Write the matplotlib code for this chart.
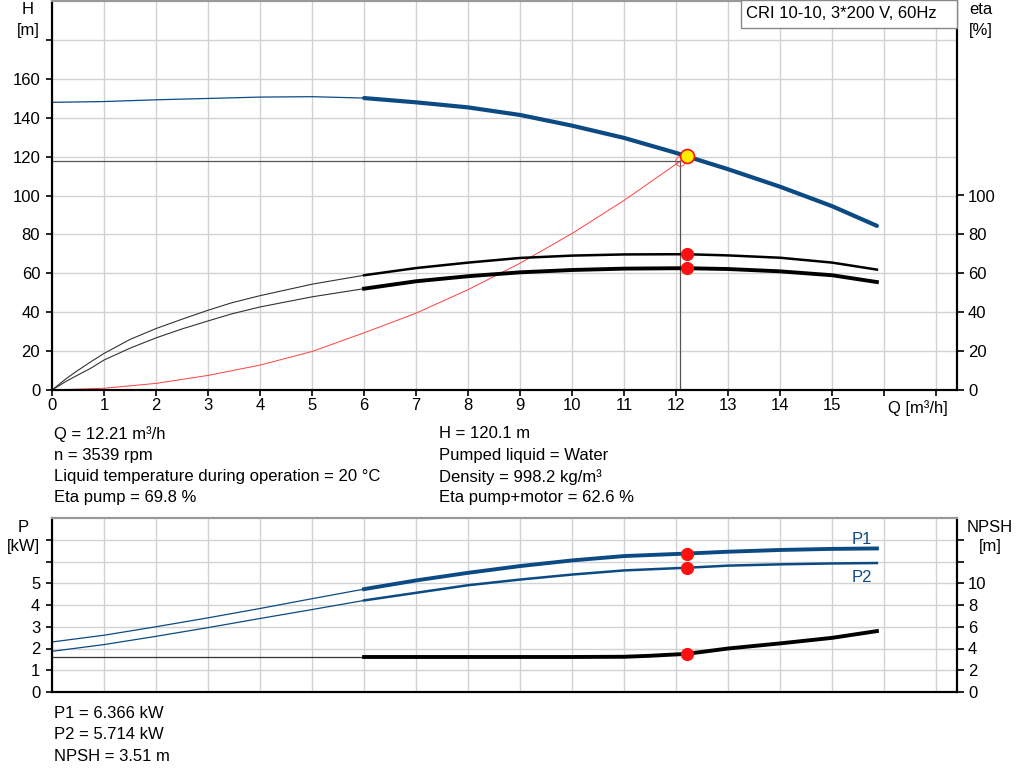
import numpy as np
import matplotlib.pyplot as plt
from matplotlib.patches import Rectangle

plt.rcParams['font.family'] = ['Liberation Sans', 'DejaVu Sans']
plt.rcParams['font.size'] = 12

# operating point
q_op = 12.21
h_op = 120.1
eta_op = 69.8
eta_pm_op = 62.6
p1_op = 6.366
p2_op = 5.714
npsh_op = 3.51

# head curve (thin part below min flow, thick part above)
q_h_thin = [0, 1, 2, 3, 4, 5, 6]
h_thin = [147.9, 148.3, 149.2, 149.9, 150.6, 150.8, 150.1]
q_h = [6, 7, 8, 9, 10, 11, 12, 12.21, 13, 14, 15, 15.86]
h = [150.1, 147.9, 145.3, 141.4, 135.9, 129.6, 121.9, 120.1, 113.5, 104.5, 94.5, 84.4]

# system curve
q_sys = [0, 1, 2, 3, 4, 5, 6, 7, 8, 9, 10, 11, 12.21]
h_sys = [0, 0.9, 3.4, 7.5, 12.8, 19.8, 29.4, 39.5, 51.6, 65.2, 80.5, 97.5, 120.1]

# efficiencies
q_eta_thin = [0, 0.28, 0.51, 0.74, 1, 1.5, 2, 2.5, 3, 3.45, 4, 5, 6]
eta_p_thin = [0, 6.0, 10.3, 14.4, 18.8, 26.0, 31.6, 36.4, 41.0, 44.8, 48.5, 54.4, 59.0]
eta_pm_thin = [0, 4.6, 7.9, 11.1, 15.4, 21.5, 26.8, 31.4, 35.5, 39.1, 42.7, 47.9, 52.1]
q_eta = [6, 7, 8, 9, 10, 11, 12, 12.21, 13, 14, 15, 15.86]
eta_p = [59.0, 62.7, 65.5, 67.9, 69.1, 69.7, 69.8, 69.8, 69.2, 68.0, 65.5, 61.9]
eta_pm = [52.1, 55.9, 58.5, 60.5, 61.7, 62.4, 62.6, 62.6, 62.2, 61.0, 59.0, 55.5]

# power
q_p_thin = [0, 1, 2, 3, 4, 5, 6]
p1_thin = [2.30, 2.61, 3.00, 3.41, 3.84, 4.29, 4.73]
p2_thin = [1.87, 2.18, 2.56, 2.96, 3.38, 3.79, 4.21]
q_p = [6, 7, 8, 9, 10, 11, 12.21, 13, 14, 15, 15.86]
p1 = [4.73, 5.13, 5.48, 5.79, 6.05, 6.25, 6.366, 6.45, 6.53, 6.58, 6.60]
p2 = [4.21, 4.56, 4.91, 5.17, 5.40, 5.59, 5.714, 5.81, 5.87, 5.91, 5.93]

# npsh
q_npsh_thin = [0, 6]
npsh_thin = [3.22, 3.22]
q_npsh = [6, 7, 8, 9, 10, 11, 11.5, 12.21, 13, 14, 15, 15.86]
npsh = [3.22, 3.22, 3.22, 3.22, 3.22, 3.24, 3.33, 3.51, 4.0, 4.47, 4.98, 5.6]

q_ticks = list(range(0, 18))
q_labels = [str(v) if v <= 15 else '' for v in q_ticks]

blue = '#0c4a84'
grid_c = '#d2d2d2'
W, H = 1024, 781


def style(ax, axr):
    ax.set_xlim(0, 17.4)
    ax.set_xticks(q_ticks)
    ax.grid(True, color=grid_c, lw=1.0)
    ax.set_axisbelow(True)
    for a in (ax, axr):
        a.spines['top'].set_color('#999999')
        a.spines['top'].set_linewidth(1.5)
        a.spines['left'].set_linewidth(1.5)
        a.spines['right'].set_linewidth(1.5)
        a.spines['bottom'].set_linewidth(1.5)
    ax.tick_params(axis='y', length=4.5, width=1.2, pad=4)
    axr.tick_params(axis='y', length=5, width=1.2, pad=3)


fig = plt.figure(figsize=(W / 100, H / 100), dpi=100)

# ---- top chart: H and eta ----
ax = fig.add_axes([52 / W, 1 - 390 / H, 905 / W, 389 / H])
ax2 = ax.twinx()
style(ax, ax2)
ax.set_ylim(0, 200)
ax2.set_ylim(0, 200)
ax.set_yticks(range(0, 200, 20))
ax.set_yticklabels([str(v) if v <= 160 else '' for v in range(0, 200, 20)])
ax2.set_yticks(range(0, 120, 20))
ax.set_xticklabels(q_labels)
ax.tick_params(axis='x', length=4, width=1.2, pad=2)

ax.plot(q_h_thin, h_thin, color=blue, lw=0.9)
ax.plot(q_h, h, color=blue, lw=3, solid_capstyle='round')
ax.plot(q_sys, h_sys, color='#ff4040', lw=0.7)
ax.plot([0, 12.08], [117.9, 117.9], color='#555555', lw=0.9)
ax.plot([12.08, 12.08], [0, 117.9], color='#555555', lw=0.9)
ax.plot([12.08], [117.9], 'o', ms=7, mfc='none', mec='#ff4040', mew=0.6)

ax2.plot(q_eta_thin, eta_p_thin, color='#333333', lw=0.8)
ax2.plot(q_eta_thin, eta_pm_thin, color='#333333', lw=0.8)
ax2.plot(q_eta, eta_p, color='black', lw=1.8)
ax2.plot(q_eta, eta_pm, color='black', lw=2.8)
ax2.plot([q_op, q_op], [eta_op, eta_pm_op], 'o', color='#ff1010', ms=8.5, zorder=5)
ax2.plot([q_op], [h_op], 'o', ms=10, mfc='#ffee00', mec='#ff1010', mew=1.2, zorder=6)

fig.text(918 / W, 1 - 408 / H, 'Q [m\u00b3/h]', ha='center', va='center')
fig.text(28 / W, 1 - 10 / H, 'H', ha='center', va='center')
fig.text(28 / W, 1 - 30 / H, '[m]', ha='center', va='center')
fig.text(981 / W, 1 - 10 / H, 'eta', ha='center', va='center')
fig.text(981 / W, 1 - 30 / H, '[%]', ha='center', va='center')

fig.patches.append(Rectangle((741 / W, 1 - 28 / H), 216 / W, 28 / H,
                             transform=fig.transFigure, facecolor='white',
                             edgecolor='#888888', lw=1, zorder=10))
fig.text(746 / W, 1 - 14 / H, 'CRI 10-10, 3*200 V, 60Hz', ha='left', va='center', zorder=11)

left_info = ['Q = 12.21 m\u00b3/h', 'n = 3539 rpm',
             'Liquid temperature during operation = 20 \u00b0C', 'Eta pump = 69.8 %']
right_info = ['H = 120.1 m', 'Pumped liquid = Water',
              'Density = 998.2 kg/m\u00b3', 'Eta pump+motor = 62.6 %']
for i, (a, b) in enumerate(zip(left_info, right_info)):
    y = 1 - (434 + i * 21.3) / H
    fig.text(54 / W, y, a, ha='left', va='center')
    fig.text(439 / W, y, b, ha='left', va='center')

# ---- bottom chart: P and NPSH ----
bx = fig.add_axes([52 / W, 1 - 692 / H, 905 / W, 174 / H])
bx2 = bx.twinx()
style(bx, bx2)
bx.set_ylim(0, 8)
bx2.set_ylim(0, 16)
bx.set_yticks(range(0, 8))
bx.set_yticklabels([str(v) if v <= 5 else '' for v in range(0, 8)])
bx2.set_yticks(range(0, 16, 2))
bx2.set_yticklabels([str(v) if v <= 10 else '' for v in range(0, 16, 2)])
bx.set_xticklabels([])
bx.tick_params(axis='x', length=0)

bx.plot(q_p_thin, p1_thin, color=blue, lw=0.9)
bx.plot(q_p_thin, p2_thin, color=blue, lw=0.9)
bx.plot(q_p, p1, color=blue, lw=2.8)
bx.plot(q_p, p2, color=blue, lw=1.8)
bx.plot([q_op, q_op], [p1_op, p2_op], 'o', color='#ff1010', ms=8.5, zorder=5)
bx2.plot(q_npsh_thin, npsh_thin, color='#333333', lw=0.9)
bx2.plot(q_npsh, npsh, color='black', lw=2.8)
bx2.plot([q_op], [npsh_op], 'o', color='#ff1010', ms=8.5, zorder=5)

fig.text(862 / W, 1 - 539 / H, 'P1', color=blue, ha='center', va='center')
fig.text(862 / W, 1 - 577 / H, 'P2', color=blue, ha='center', va='center')
fig.text(23 / W, 1 - 527 / H, 'P', ha='center', va='center')
fig.text(23 / W, 1 - 547 / H, '[kW]', ha='center', va='center')
fig.text(990 / W, 1 - 527 / H, 'NPSH', ha='center', va='center')
fig.text(990 / W, 1 - 547 / H, '[m]', ha='center', va='center')

bottom_info = ['P1 = 6.366 kW', 'P2 = 5.714 kW', 'NPSH = 3.51 m']
for i, s in enumerate(bottom_info):
    fig.text(54 / W, 1 - (713 + i * 21.7) / H, s, ha='left', va='center')

fig.savefig('out.png', dpi=100)
